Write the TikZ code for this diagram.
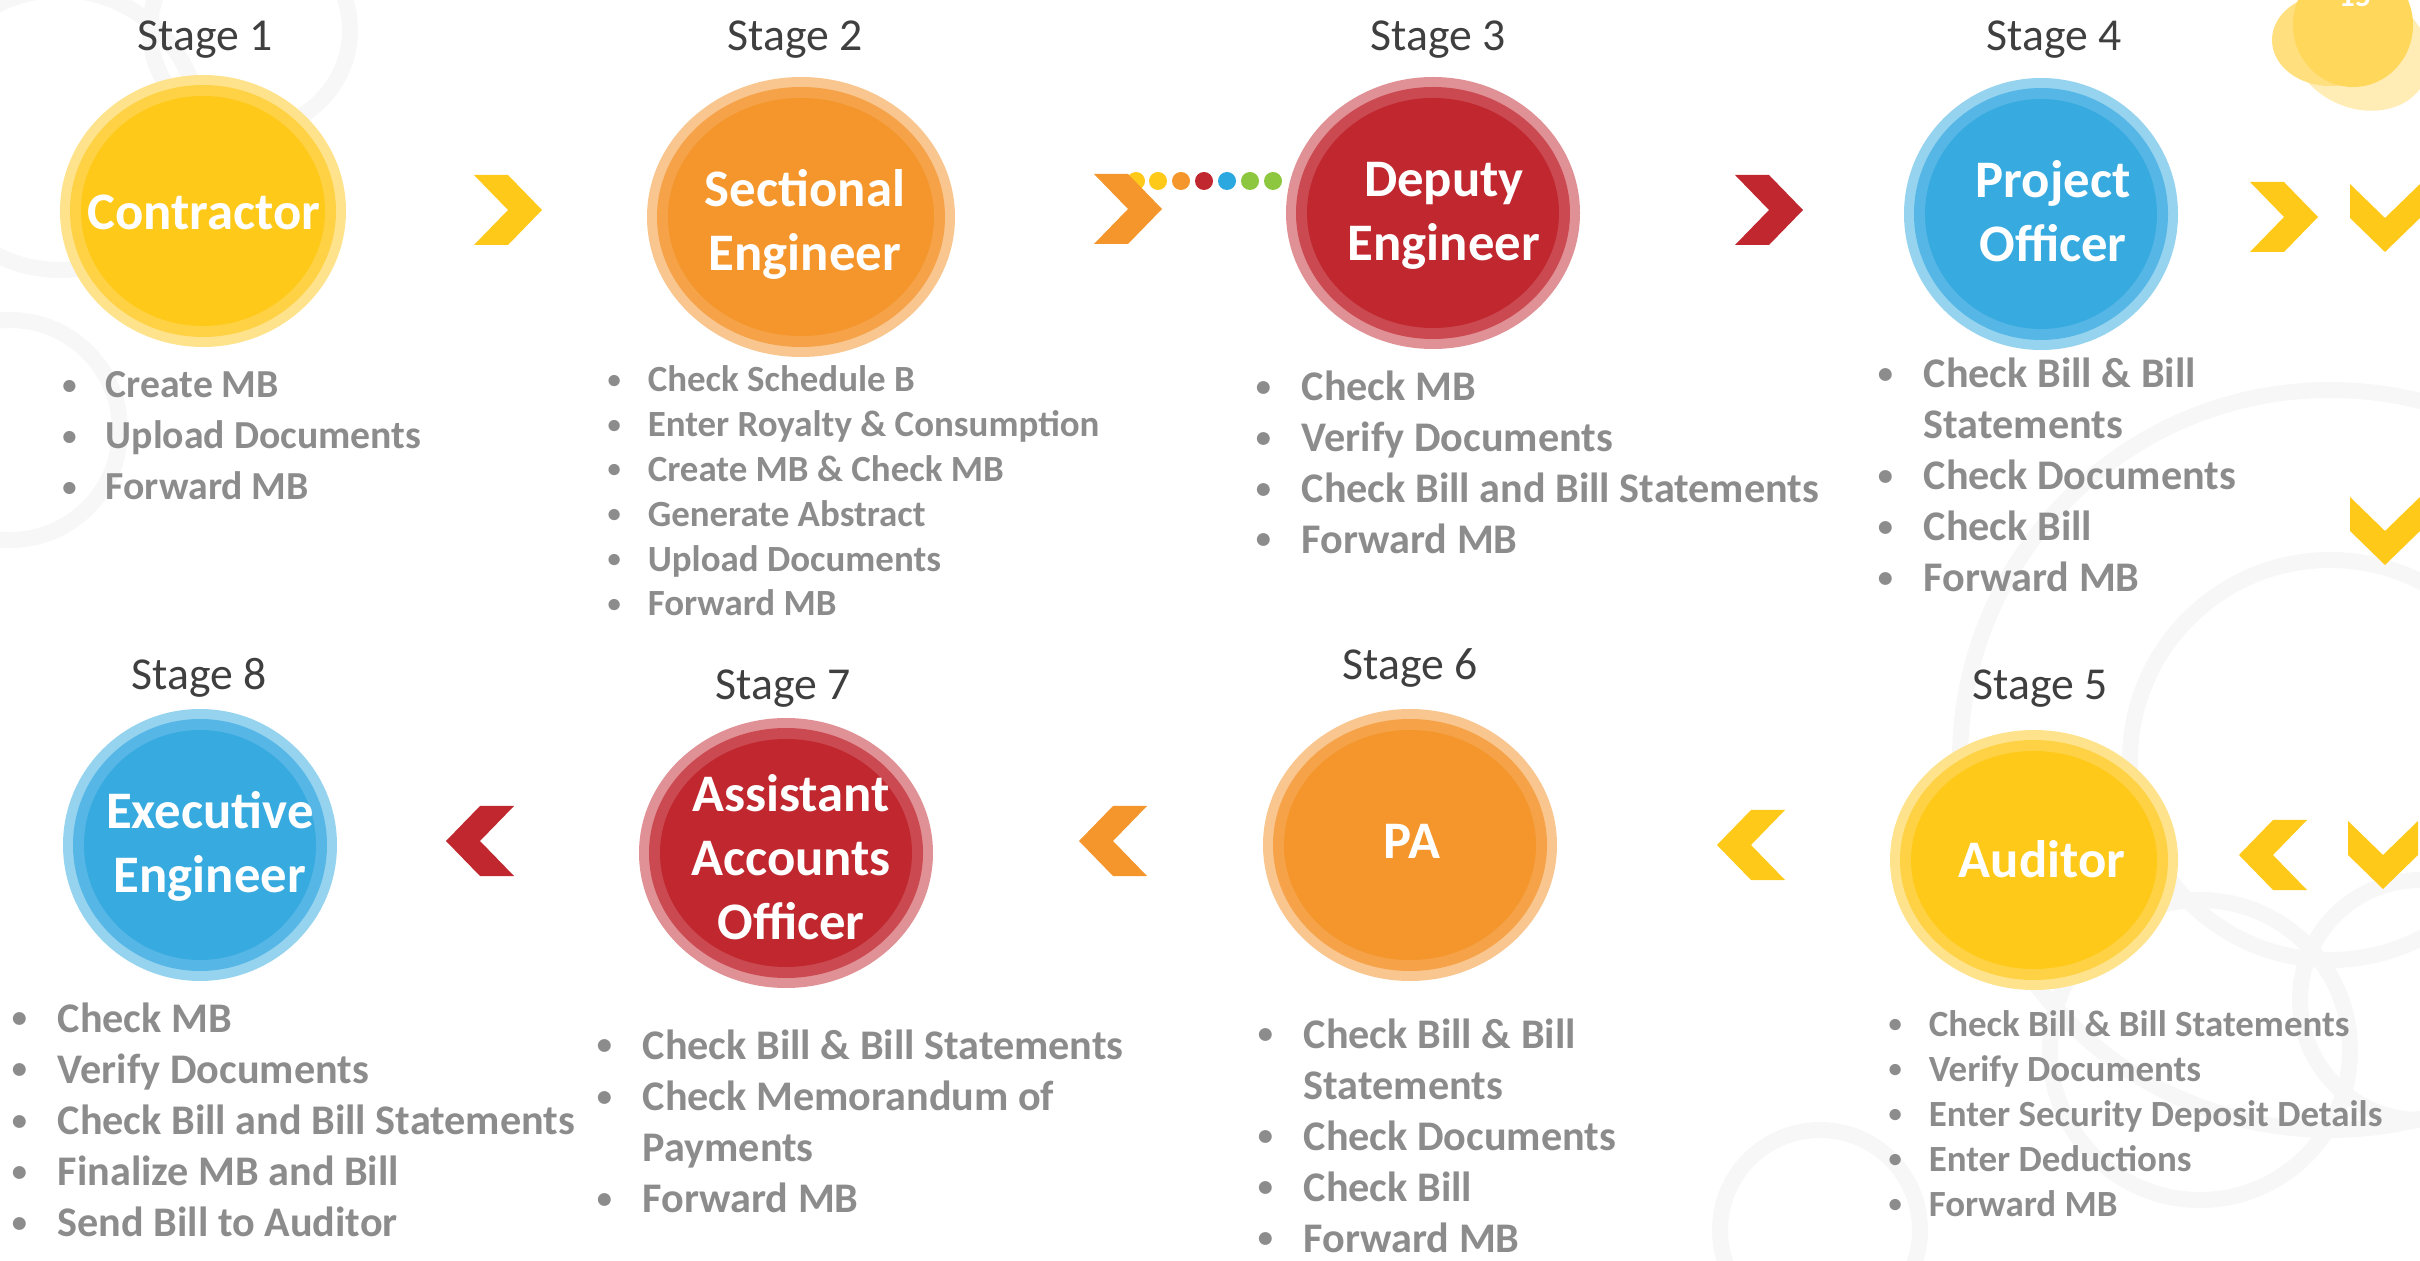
\documentclass[tikz,border=0pt]{standalone}
\usepackage{fontspec}
\setmainfont{Carlito}
\usetikzlibrary{shapes.geometric}

\definecolor{yelIn}{HTML}{FEC918}
\definecolor{yelMid}{HTML}{FED244}
\definecolor{yelOut}{HTML}{FEE38C}
\definecolor{orgIn}{HTML}{F4962B}
\definecolor{orgMid}{HTML}{F5A248}
\definecolor{orgOut}{HTML}{F9C68F}
\definecolor{redIn}{HTML}{C0272F}
\definecolor{redMid}{HTML}{CB4A51}
\definecolor{redOut}{HTML}{E09195}
\definecolor{bluIn}{HTML}{37AAE0}
\definecolor{bluMid}{HTML}{56B7E6}
\definecolor{bluOut}{HTML}{95D3EF}
\definecolor{dotblu}{HTML}{2BA8E0}
\definecolor{dotgrn}{HTML}{8DC63F}
\definecolor{txtgray}{HTML}{8C8C8C}
\definecolor{stagegray}{HTML}{3F3F3F}
\definecolor{ringgray}{HTML}{F7F7F8}
\definecolor{blobmain}{HTML}{FFD75A}
\definecolor{blobmid}{HTML}{FFDF7E}
\definecolor{blobpale}{HTML}{FFEDB5}

\newcommand{\itemdot}{\makebox[1.15em][l]{\hspace{0.06em}\raisebox{0.1em}{\scalebox{0.72}{\textbullet}}}}
\newcommand{\itemgap}{\hspace*{1.15em}}

\begin{document}
\begin{tikzpicture}[x=0.01cm,y=-0.01cm,
  stagelabel/.style={anchor=base,text=stagegray,font=\fontsize{13}{13}\selectfont,inner sep=0},
  disclabel/.style={text=white,font=\bfseries\fontsize{15}{18.2}\selectfont,align=center,inner sep=0},
  listline/.style={anchor=base west,text=txtgray,inner sep=0},
  bgring/.style={draw=ringgray,line width=0.16cm},
  chev/.pic={\fill (-34,-35) -- (0,-35) -- (34,0) -- (0,35) -- (-34,35) -- (0,0) -- cycle;}]
   \useasboundingbox (0,0) rectangle (2420,1261);
   \clip (0,0) rectangle (2420,1261);
   % faint rings in the background
   \foreach \rx/\ry/\rr in {60/130/140, 10/430/110, 250/30/100, 2330/760/370,
       2330/760/200, 2200/1050/150, 1820/1230/100, 2420/1000/120}
       \draw[bgring] (\rx,\ry) circle (\rr);
   % page number blob
   \fill[blobpale, rotate around={-25:(2360,50)}] (2360,50) ellipse (72 and 58);
   \fill[blobmid] (2330,40) ellipse (58 and 46);
   \fill[blobmain] (2353,25) ellipse (60 and 62);
   \node[white,font=\bfseries\fontsize{9}{9}\selectfont,anchor=base,inner sep=0]
   (pagenum) at (2355,7) {15};
   % the eight stages
   \foreach \n/\cx/\cy/\rx/\ry/\col/\lx/\ly/\sx/\sy/\txt in {
       1/203/211/143/136/yel/204/212/205/51/{Contractor},
       2/801/217/154/140/org/805/224/795/51/{Sectional\\Engineer},
       3/1433/213/147/136/red/1444/216/1438/51/{Deputy\\Engineer},
       4/2041/214/137/136/blu/2053/211/2054/51/{Project\\Officer},
       5/2034/860/144/130/yel/2042/859/2040/700/{Auditor},
       6/1410/845/147/136/org/1412/841/1410/680/{PA},
       7/786/853/147/135/red/791/857/783/699/{Assistant\\Accounts\\Officer},
       8/200/845/137/136/blu/210/846/199/690/{Executive\\Engineer}} {
       \fill[fill=\col Out] (\cx,\cy) ellipse ({\rx} and {\ry});
       \fill[fill=\col Mid] (\cx,\cy) ellipse ({\rx-10} and {\ry-10});
       \fill[fill=\col In] (\cx,\cy) ellipse ({\rx-21} and {\ry-21});
       \node[disclabel] (s\n) at (\lx,\ly) {\txt};
       \node[stagelabel] (st\n) at (\sx,\sy) {Stage \n};}
   % coloured dots in front of stage 3
   \foreach \dx/\dc in {1136/yelIn,1158/yelIn,1181/orgIn,1204/redIn,1227/dotblu,1250/dotgrn,1273/dotgrn}
       \fill[\dc] (\dx,181) circle (9);
   % chevrons between the stages
   \foreach \px/\py/\pc/\pr in {508/210/yelIn/0, 1128/209/orgIn/0, 1769/210/redIn/0,
       2284/217/yelIn/0, 2385/218/yelIn/-90, 2385/531/yelIn/-90, 2273/855/yelIn/180,
       2383/855/yelIn/-90, 1751/845/yelIn/180, 1113/841/orgIn/180, 480/841/redIn/180}
       \pic[color=\pc,rotate=\pr] at (\px,\py) {chev};
   % task lists under the stages
   \foreach \tx/\ty/\dy/\sz/\items in {
       105/398/51/11.3/{\itemdot Create MB,\itemdot Upload Documents,\itemdot Forward MB},
       647/392/44.8/10.5/{\itemdot Check Schedule B,\itemdot Enter Royalty \& Consumption,
           \itemdot Create MB \& Check MB,\itemdot Generate Abstract,\itemdot Upload Documents,
           \itemdot Forward MB},
       1301/401/50.7/12/{\itemdot Check MB,\itemdot Verify Documents,
           \itemdot Check Bill and Bill Statements,\itemdot Forward MB},
       1923/388/51/12/{\itemdot Check Bill \& Bill,\itemgap Statements,\itemdot Check Documents,
           \itemdot Check Bill,\itemdot Forward MB},
       1928/1036/45/10.5/{\itemdot Check Bill \& Bill Statements,\itemdot Verify Documents,
           \itemdot Enter Security Deposit Details,\itemdot Enter Deductions,\itemdot Forward MB},
       1303/1048/51/12/{\itemdot Check Bill \& Bill,\itemgap Statements,\itemdot Check Documents,
           \itemdot Check Bill,\itemdot Forward MB},
       642/1059/51.3/12/{\itemdot Check Bill \& Bill Statements,\itemdot Check Memorandum of,
           \itemgap Payments,\itemdot Forward MB},
       57/1032/51.2/12/{\itemdot Check MB,\itemdot Verify Documents,
           \itemdot Check Bill and Bill Statements,\itemdot Finalize MB and Bill,
           \itemdot Send Bill to Auditor}} {
       \foreach \t [count=\i from 0] in \items
           \node[listline,font=\bfseries\fontsize{\sz}{\sz}\selectfont]
           (t\tx-\i) at ({\tx-4.04*\sz},{\ty+\i*\dy}) {\t};}
\end{tikzpicture}
\end{document}
